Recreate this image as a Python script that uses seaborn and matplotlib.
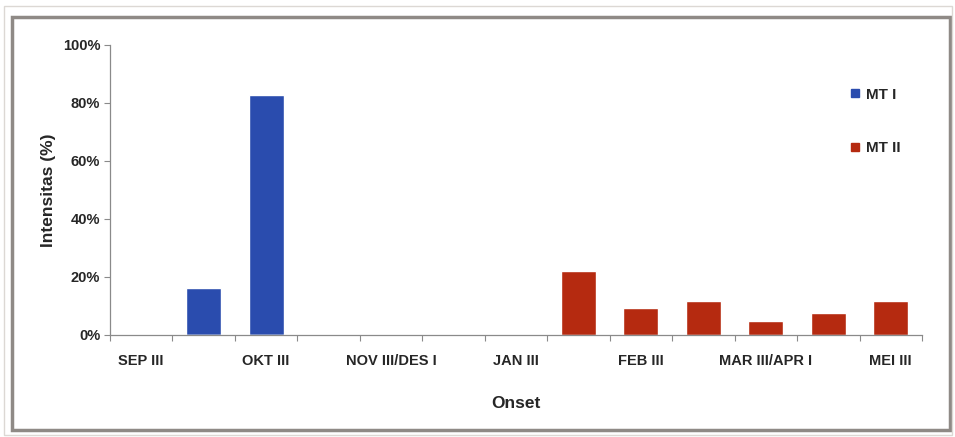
import matplotlib
matplotlib.use("Agg")
import matplotlib.pyplot as plt
from matplotlib.patches import Rectangle
from matplotlib.lines import Line2D
from matplotlib.ticker import FuncFormatter, FixedLocator
import seaborn as sns
import pandas as pd

# Onset periods (dasarian) along the x axis
categories = ["SEP III", "OKT I", "OKT III", "NOV I", "NOV III/DES I", "DES III",
              "JAN III", "FEB I", "FEB III", "MAR I", "MAR III/APR I", "APR II", "MEI III"]
# Intensity (%) per season type
mt1 = [0, 16.2, 82.8, 0, 0, 0, 0, 0, 0, 0, 0, 0, 0]
mt2 = [0, 0, 0, 0, 0, 0, 0, 22.2, 9.2, 11.8, 4.9, 7.5, 11.8]
series_names = ["MT I", "MT II"]
colors = ["#2A4CAE", "#B52A10"]
yticks = [0, 20, 40, 60, 80, 100]

rows = []
for name, vals in zip(series_names, [mt1, mt2]):
    for c, v in zip(categories, vals):
        rows.append({"Onset": c, "Seri": name, "Nilai": v})
df = pd.DataFrame(rows)

sns.set_style("white")
plt.rcParams["font.family"] = ["Liberation Sans", "DejaVu Sans"]
plt.rcParams["font.weight"] = "bold"

fig = plt.figure(figsize=(9.55, 4.37), dpi=100)
ax = fig.add_axes([110 / 955, 1 - 335 / 437, 812 / 955, 290 / 437])

sns.barplot(data=df, x="Onset", y="Nilai", hue="Seri", order=categories,
            hue_order=series_names, palette=colors, dodge=False, width=0.56,
            saturation=1, ax=ax, legend=False)

ax.set_xlim(-0.5, len(categories) - 0.5)
ax.set_ylim(0, 100)
ax.set_yticks(yticks)
ax.yaxis.set_major_formatter(FuncFormatter(lambda v, p: f"{v:.0f}%"))

# tick marks on category boundaries, labels on every other category
ax.xaxis.set_major_locator(FixedLocator([i - 0.5 for i in range(len(categories) + 1)]))
ax.set_xticklabels([""] * (len(categories) + 1))
ax.xaxis.set_minor_locator(FixedLocator(list(range(len(categories)))))
ax.set_xticklabels([c if i % 2 == 0 else "" for i, c in enumerate(categories)], minor=True)
ax.tick_params(axis="x", which="major", length=4, width=0.8, color="#8a8a8a", direction="out")
ax.tick_params(axis="x", which="minor", length=0, pad=14, labelsize=10.5)
ax.tick_params(axis="y", length=4, width=0.8, color="#8a8a8a", direction="out", labelsize=10.5, pad=3)
ax.tick_params(axis="x", which="major", bottom=True)
ax.tick_params(axis="y", left=True)

for lab in ax.get_xticklabels(minor=True) + ax.get_yticklabels():
    lab.set_fontweight("bold")

for side in ["top", "right"]:
    ax.spines[side].set_visible(False)
for side in ["left", "bottom"]:
    ax.spines[side].set_color("#8a8a8a")
    ax.spines[side].set_linewidth(0.9)

ax.set_xlabel("Onset", fontsize=12.5, fontweight="bold", labelpad=20)
ax.set_ylabel("Intensitas (%)", fontsize=12.5, fontweight="bold", labelpad=5)

handles = [Line2D([0], [0], marker="s", color="none", markerfacecolor=col,
                  markeredgecolor=col, markersize=6) for col in colors]
leg = ax.legend(handles, series_names, loc="upper left", bbox_to_anchor=(0.895, 0.90),
                frameon=False, labelspacing=2.6, handlelength=0.6, handletextpad=0.4,
                prop={"weight": "bold", "size": 11})

# chart border
fig.patches.append(Rectangle((12 / 955, 1 - 430 / 437), 938 / 955, 413 / 437,
                             transform=fig.transFigure, fill=False,
                             edgecolor="#8f8a86", linewidth=2.5))
fig.patches.append(Rectangle((4 / 955, 1 - 435 / 437), 948 / 955, 429 / 437,
                             transform=fig.transFigure, fill=False,
                             edgecolor="#dcd8d4", linewidth=1.0))

fig.savefig("out.png", dpi=100)
